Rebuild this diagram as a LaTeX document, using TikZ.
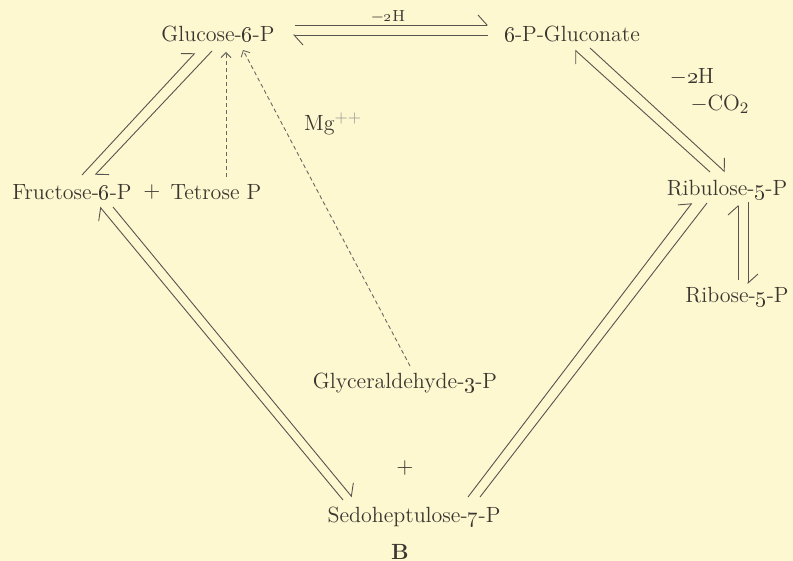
\documentclass[tikz,border=0pt]{standalone}
\usepackage{tikz}
\usetikzlibrary{arrows.meta,calc}
\definecolor{paper}{HTML}{FDF8D0}
\definecolor{ink}{HTML}{3A3630}
\newcommand{\os}[1]{\oldstylenums{#1}}

\begin{document}
\begin{tikzpicture}[x=0.5pt, y=-0.5pt, every node/.style={font=\fontsize{11}{13}\selectfont, text=ink, inner sep=1pt},
  eq/.style={draw=ink!85, line width=0.45pt, -{Straight Barb[harpoon, length=4.5pt, width=10pt]}},
  pl/.style={draw=ink!85, line width=0.45pt},
  dsh/.style={draw=ink!75, line width=0.45pt, dash pattern=on 2pt off 1.5pt, -{Straight Barb[length=2.5pt, width=5pt]}},
  small/.style={font=\fontsize{8}{9}\selectfont}]
\fill[paper] (0,0) rectangle (793,561);
\useasboundingbox (0,0) rectangle (793,561);
% compounds
\node (glc) at (218,34) {Glucose-\os{6}-P};
\node (gcn) at (572,34) {\os{6}-P-Gluconate};
\node (fru) at (72,192) {Fructose-\os{6}-P};
\node (plusa) at (152,192) {$+$};
\node (tet) at (216,192) {Tetrose P};
\node (ribu) at (727,190) {Ribulose-\os{5}-P};
\node (ribo) at (737,297) {Ribose-\os{5}-P};
\node (gly) at (405,383) {Glyceraldehyde-\os{3}-P};
\node (plusb) at (405,468) {$+$};
\node (sed) at (414,517) {Sedoheptulose-\os{7}-P};
\node[font=\fontsize{11}{13}\bfseries] (lbl) at (400,552) {B};
% side labels
\node[small] (hh) at (388,17) {$-$\os{2}H};
\node[inner sep=0pt] (hhb) at (692,77) {$-$\os{2}H};
\node[inner sep=0pt] (co) at (720,104) {$-$CO$_2$};
\node (mg) at (333,124) {Mg$^{\textcolor{ink!50}{++}}$};
% equilibria
\draw[eq] ($(glc)+(77,-9)$) -- ($(gcn)+(-84,-9)$);
\draw[eq] ($(gcn)+(-84,1)$) -- ($(glc)+(75,1)$);
\draw[eq] ($(fru)+(10,-17)$) -- ($(glc)+(-23,19)$);
\draw[eq] ($(glc)+(-6,17)$) -- ($(fru)+(23,-17)$);
\draw[eq] ($(sed)+(-71,-17)$) -- ($(fru)+(28,15)$);
\draw[eq] ($(fru)+(41,15)$) -- ($(sed)+(-62,-20)$);
\draw[eq] ($(sed)+(54,-20)$) -- ($(ribu)+(-35,13)$);
\draw[pl] ($(ribu)+(-20,13)$) -- ($(sed)+(66,-20)$);
\draw[eq] ($(ribu)+(-17,-18)$) -- ($(gcn)+(3,16)$);
\draw[eq] ($(gcn)+(18,14)$) -- ($(ribu)+(-2,-18)$);
\draw[eq] ($(ribo)+(1,-17)$) -- ($(ribu)+(11,15)$);
\draw[eq] ($(ribu)+(21,12)$) -- ($(ribo)+(11,-13)$);
% dashed routes
\draw[dsh] ($(tet)+(10,-15)$) -- ($(glc)+(8,18)$);
\draw[dsh] ($(gly)+(5,-17)$) -- ($(glc)+(25,16)$);
\end{tikzpicture}
\end{document}
